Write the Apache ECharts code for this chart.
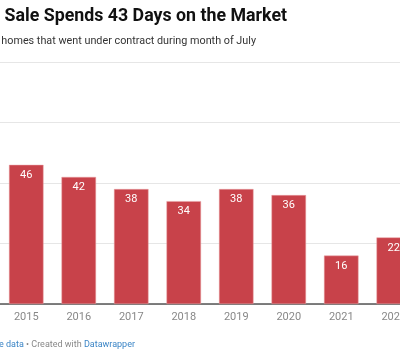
<!DOCTYPE html>
<html><head><meta charset="utf-8">
<script src="https://cdn.jsdelivr.net/npm/echarts@6/dist/echarts.min.js"></script>
<style>html,body{margin:0;padding:0;background:#fff}#c{width:400px;height:356px}</style>
</head><body><div id="c"></div>
<script>
const categories = ['2015','2016','2017','2018','2019','2020','2021','2022'];
const days = [46, 42, 38, 34, 38, 36, 16, 22];
const yTicks = [0, 20, 40, 60, 80];
const titleText = 'Typical Home for Sale Spends 43 Days on the Market';
const subtitleText = 'Median days on market for homes that went under contract during month of July';

const chart = echarts.init(document.getElementById('c'), null, {renderer:'canvas'});
chart.setOption({
  animation: false,
  backgroundColor: '#fff',
  grid: {left: 0, top: 62, bottom: 52, right: -20, containLabel: false, outerBoundsMode: 'none'},
  xAxis: {
    type: 'category', data: categories,
    axisLine: {show: true, lineStyle: {color: '#555', width: 1.5}},
    axisTick: {show: false},
    axisLabel: {color: '#888', fontSize: 11, fontFamily: 'Roboto', margin: 8}
  },
  yAxis: {
    type: 'value', min: yTicks[0], max: yTicks[yTicks.length-1], interval: 20,
    axisLabel: {show: false}, axisLine: {show: false}, axisTick: {show: false},
    splitLine: {lineStyle: {color: '#e6e6e6', width: 1}}
  },
  series: [{
    type: 'bar', data: days, barWidth: 34.5,
    itemStyle: {color: '#c8424a', borderColor: '#e8a0a4', borderWidth: 0.5},
    label: {show: true, position: 'insideTop', distance: 5, color: '#fff', fontSize: 11, fontFamily: 'Roboto'}
  }],
  graphic: [
    {type: 'text', x: 287, y: 8, style: {text: titleText, font: 'bold 17.8px Roboto', fill: '#111', align: 'right', verticalAlign: 'top'}},
    {type: 'text', x: 256, y: 36, style: {text: subtitleText, font: '10.8px Roboto', fill: '#333', align: 'right', verticalAlign: 'top'}},
    {type: 'text', x: 135, y: 340, style: {
      align: 'right', verticalAlign: 'top',
      rich: {b: {fill: '#3b85c6', font: '9px Roboto'}, g: {fill: '#888', font: '9px Roboto'}},
      text: '{b|Get the data}{g| • Created with }{b|Datawrapper}'
    }}
  ]
});
</script></body></html>
